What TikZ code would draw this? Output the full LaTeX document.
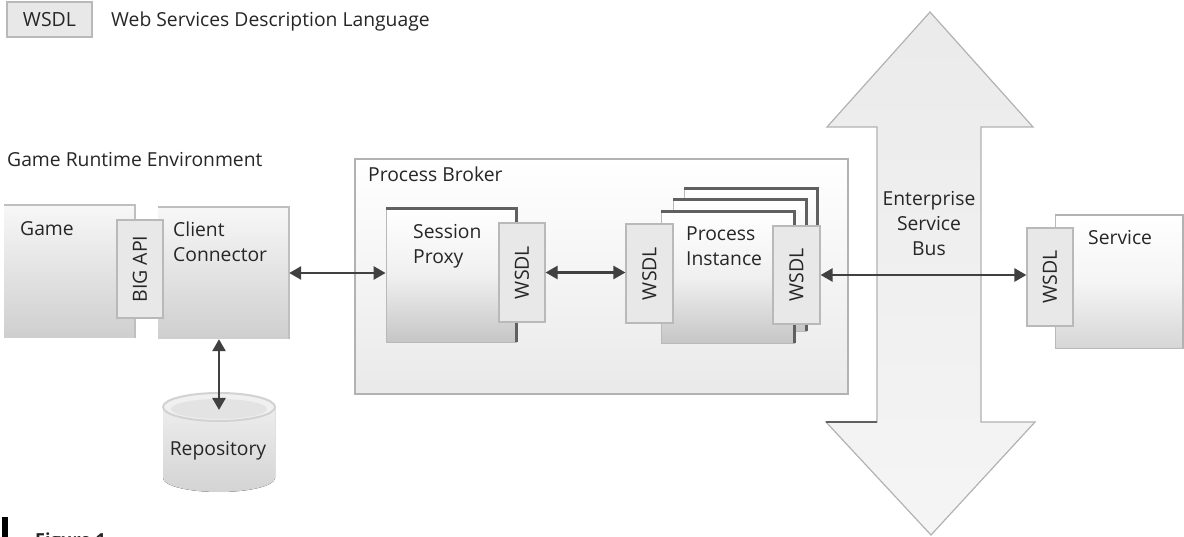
\documentclass[tikz,border=0pt]{standalone}
\usepackage{fontspec}
\setmainfont{Open Sans}
\usetikzlibrary{arrows.meta}
\begin{document}
\begin{tikzpicture}[x=1pt,y=-1pt,
  txt/.style={font=\fontsize{19.3}{25}\selectfont, inner sep=0pt, text=black!85},
  comp/.style={rectangle, inner sep=0pt, top color=gray!6, bottom color=gray!38},
  raised/.style={rectangle, inner sep=0pt, draw=gray!55, line width=0.8pt,
    top color=white, bottom color=gray!45, middle color=gray!12},
  wsdl/.style={rectangle, inner sep=0pt, draw=gray!55, line width=1.2pt, fill=gray!18,
    font=\fontsize{19.5}{22}\selectfont, text=black!85},
  rim/.style={draw=gray!75!black, line width=2.4pt},
  softrim/.style={draw=gray!50, line width=2pt},
  conn/.style={draw=black!75, line width=2.6pt,
    {Triangle[length=12pt,width=13pt]}-{Triangle[length=12pt,width=13pt]}}
]
\useasboundingbox (0,0) rectangle (1184,537);

% legend
\node[wsdl, minimum width=85pt, minimum height=35pt] (legwsdl) at (49.5,19.5) {WSDL};
\node[txt, anchor=base west] (legtxt) at (111,27) {Web Services Description Language};

% game runtime environment
\node[txt, anchor=base west] (gre) at (7,167) {Game Runtime Environment};
\node[comp, minimum width=131pt, minimum height=133pt] (game) at (69.5,271.5) {};
\draw[softrim] (game.south east) -- (game.north east) -- (game.north west);
\node[txt, anchor=base west] (gamelbl) at (20,236) {Game};
\node[comp, minimum width=131pt, minimum height=132pt] (client) at (223.5,273) {};
\draw[softrim] (client.south east) -- (client.north east) -- (client.north west);
\node[txt, anchor=base west, align=left] (clientlbl) at (173,262) {Client\\Connector};
\node[wsdl, minimum width=46pt, minimum height=98pt] (bigapi) at (140,269) {\rotatebox{90}{BIG API}};

% repository
\fill[top color=gray!14, bottom color=gray!34]
  (163,407) -- (163,478) arc[start angle=180, end angle=0, x radius=56, y radius=14] -- (275,407) -- cycle;
\draw[draw=gray!35, line width=2pt, fill=gray!12] (219,407) ellipse[x radius=56, y radius=14];
\fill[gray!22] (219,409) ellipse[x radius=48, y radius=10];
\node[txt, anchor=base] (repolbl) at (218,455) {Repository};
\coordinate (repotop) at (219,410);

% process broker
\node[rectangle, inner sep=0pt, draw=gray!60, line width=1.4pt, top color=white, bottom color=gray!17,
  minimum width=493pt, minimum height=235pt] (broker) at (601.5,276.5) {};
\node[txt, anchor=base west] (brokerlbl) at (368,182) {Process Broker};

\node[raised, minimum width=130pt, minimum height=133pt] (session) at (451,275.5) {};
\draw[rim] (session.south east) -- (session.north east) -- (session.north west);
\node[txt, anchor=base west, align=left] (sessionlbl) at (413,264) {Session\\Proxy};
\node[wsdl, minimum width=46pt, minimum height=99pt] (swsdl) at (522,272.5) {\rotatebox{90}{WSDL}};

\foreach \n/\cx/\cy in {pithree/750.5/254.5, pitwo/739.5/265.5, pione/727.5/277.5}{
  \node[raised, minimum width=133pt, minimum height=131pt] (\n) at (\cx,\cy) {};
  \draw[rim] (\n.south east) -- (\n.north east) -- (\n.north west);
}
\node[txt, anchor=base west, align=left] (pilbl) at (686,266) {Process\\Instance};
\node[wsdl, minimum width=47pt, minimum height=99pt] (piwl) at (649.5,273.5) {\rotatebox{90}{WSDL}};
\node[wsdl, minimum width=47pt, minimum height=98pt] (piwr) at (796.5,275) {\rotatebox{90}{WSDL}};

% enterprise service bus
\path[draw=gray!60, line width=1.2pt, top color=gray!16, bottom color=gray!8]
  (930,12) -- (1033,127) -- (981,127) -- (981,422) -- (1035,422) -- (931,535)
  -- (826,422) -- (877,422) -- (877,127) -- (827,127) -- cycle;
\draw[rim] (826,422) -- (877,422);
\node[txt, anchor=base, align=center] (esblbl) at (929,256) {Enterprise\\Service\\Bus};

% service
\node[raised, top color=white, bottom color=gray!32, middle color=gray!8,
  minimum width=128pt, minimum height=133pt] (service) at (1119,281.5) {};
\draw[softrim, draw=gray!60] (service.south east) -- (service.north east) -- (service.north west);
\node[txt, anchor=base west] (servicelbl) at (1088,245) {Service};
\node[wsdl, minimum width=46pt, minimum height=98pt] (svwsdl) at (1050,277) {\rotatebox{90}{WSDL}};

% connectors
\draw[conn] (client.east) -- (client.east -| session.west);
\draw[conn] (repotop |- client.south) -- (repotop);
\draw[conn] (swsdl.east) -- (swsdl.east -| piwl.west);
\draw[conn] (piwr.east) -- (piwr.east -| svwsdl.west);

% figure caption
\fill[black] (2,517) rectangle (8,545);
\node[txt, anchor=base west, font=\fontsize{18}{22}\selectfont\bfseries] (figlbl) at (35,546) {Figure 1};
\end{tikzpicture}
\end{document}
